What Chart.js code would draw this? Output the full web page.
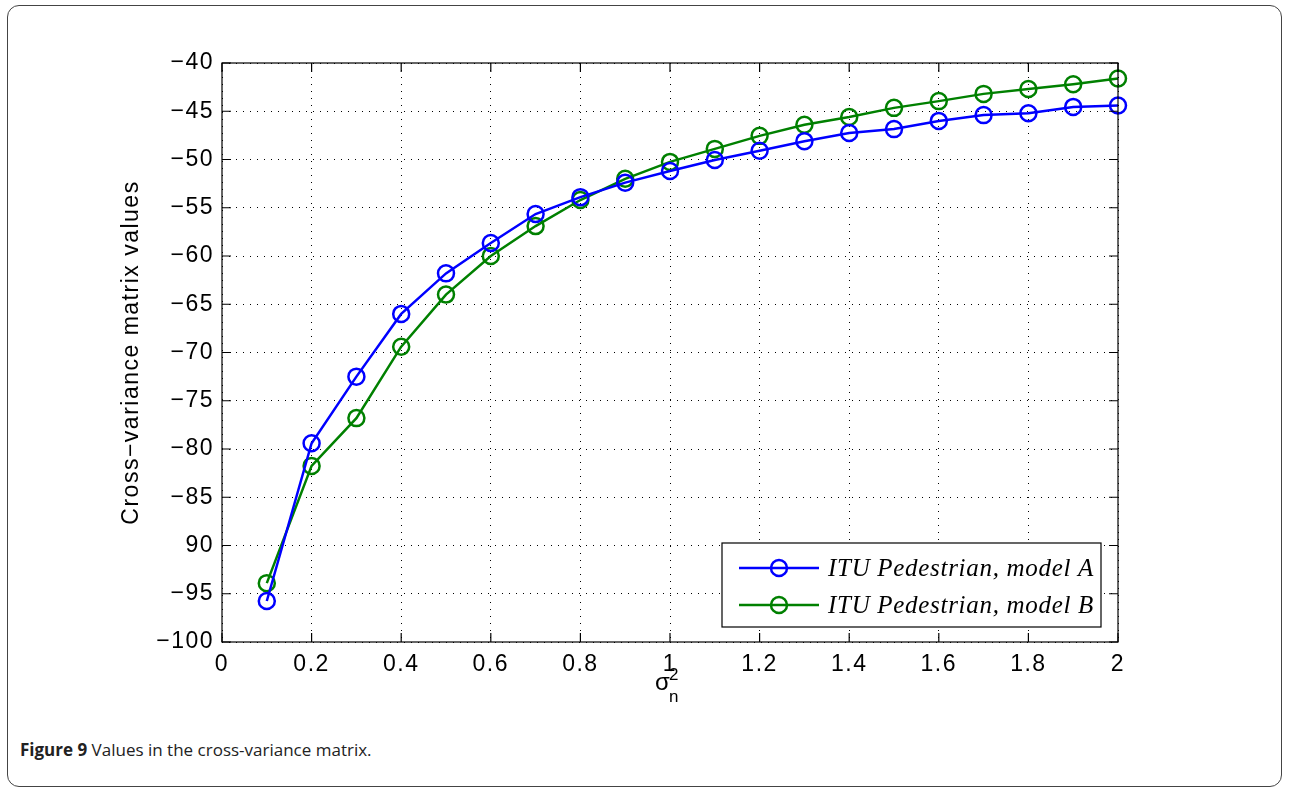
<!DOCTYPE html>
<html>
<head>
<meta charset="utf-8">
<script src="https://cdn.jsdelivr.net/npm/chart.js"></script>
<style>
  body { margin: 0; background: #fff; }
  #frame {
    position: absolute; left: 7px; top: 5px; width: 1275px; height: 782px;
    border: 1.5px solid #444; border-radius: 12px; box-sizing: border-box;
  }
  #wrap { position: absolute; left: 0; top: 0; width: 1291px; height: 720px; }
  #caption {
    position: absolute; left: 20px; top: 738px;
    font-family: "Open Sans", "Noto Sans", sans-serif; font-size: 17px; color: #222;
  }
</style>
</head>
<body>
<div id="frame"></div>
<div id="wrap"><canvas id="myChart"></canvas></div>
<div id="caption"><b>Figure 9</b> Values in the cross-variance matrix.</div>
<script>
// noise variance sigma_n^2
var sigmaValues = [0.1, 0.2, 0.3, 0.4, 0.5, 0.6, 0.7, 0.8, 0.9, 1.0,
                   1.1, 1.2, 1.3, 1.4, 1.5, 1.6, 1.7, 1.8, 1.9, 2.0];
var modelA = [-95.75, -79.4, -72.5, -66.0, -61.8, -58.65, -55.65, -53.9, -52.4, -51.2,
              -50.05, -49.1, -48.1, -47.25, -46.85, -46.0, -45.4, -45.2, -44.55, -44.4];
var modelB = [-93.9, -81.75, -76.8, -69.4, -64.0, -60.0, -56.9, -54.2, -52.0, -50.25,
              -48.9, -47.55, -46.4, -45.6, -44.65, -43.95, -43.2, -42.7, -42.2, -41.6];
var seriesLabels = ["ITU Pedestrian, model A", "ITU Pedestrian, model B"];
var seriesColors = ["#0000ff", "#008000"];
var xTicks = [0, 0.2, 0.4, 0.6, 0.8, 1, 1.2, 1.4, 1.6, 1.8, 2];
var yTicks = [-100, -95, -90, -85, -80, -75, -70, -65, -60, -55, -50, -45, -40];
// the -90 label is printed without its minus sign in the figure
var yTickLabels = ["\u2212100", "\u221295", "90", "\u221285", "\u221280", "\u221275", "\u221270",
                   "\u221265", "\u221260", "\u221255", "\u221250", "\u221245", "\u221240"];

function toPoints(vals) {
  return vals.map(function (v, i) { return { x: sigmaValues[i], y: v }; });
}

var tickFont = { family: "'Liberation Sans', Arial, sans-serif", size: 23 };

var spacing = {
  id: "spacing",
  beforeDraw: function (chart) { chart.ctx.letterSpacing = "1.5px"; }
};

// box, inward ticks, sigma label and legend drawn after the chart
var matlabBits = {
  id: "matlabBits",
  afterDraw: function (chart) {
    var ctx = chart.ctx;
    var a = chart.chartArea;
    var xs = chart.scales.x, ys = chart.scales.y;
    ctx.save();
    ctx.strokeStyle = "#000";
    ctx.lineWidth = 1.2;
    ctx.setLineDash([]);
    ctx.strokeRect(a.left, a.top, a.right - a.left, a.bottom - a.top);
    var len = 9;
    ctx.beginPath();
    xTicks.forEach(function (t) {
      var px = xs.getPixelForValue(t);
      ctx.moveTo(px, a.bottom); ctx.lineTo(px, a.bottom - len);
      ctx.moveTo(px, a.top); ctx.lineTo(px, a.top + len);
    });
    yTicks.forEach(function (t) {
      var py = ys.getPixelForValue(t);
      ctx.moveTo(a.left, py); ctx.lineTo(a.left + len, py);
      ctx.moveTo(a.right, py); ctx.lineTo(a.right - len, py);
    });
    ctx.stroke();

    // x axis title: sigma with sup 2 and sub n
    var cx = (a.left + a.right) / 2;
    ctx.letterSpacing = "0px";
    ctx.fillStyle = "#000";
    ctx.textBaseline = "alphabetic";
    ctx.textAlign = "left";
    ctx.font = "24px 'Liberation Sans', Arial, sans-serif";
    ctx.fillText("\u03c3", cx - 15, 690);
    ctx.font = "17px 'Liberation Sans', Arial, sans-serif";
    ctx.fillText("2", cx - 1, 680);
    ctx.fillText("n", cx - 1, 702);

    // legend
    var lx = 722, ly = 543, lw = 379, lh = 84;
    ctx.fillStyle = "#fff";
    ctx.fillRect(lx, ly, lw, lh);
    ctx.strokeStyle = "#000";
    ctx.lineWidth = 1.2;
    ctx.strokeRect(lx, ly, lw, lh);
    chart.data.datasets.forEach(function (ds, i) {
      var ry = ly + 25 + i * 37;
      ctx.strokeStyle = ds.borderColor;
      ctx.lineWidth = 2.5;
      ctx.beginPath();
      ctx.moveTo(lx + 17, ry); ctx.lineTo(lx + 97, ry);
      ctx.stroke();
      ctx.beginPath();
      ctx.arc(lx + 57, ry, 8, 0, Math.PI * 2);
      ctx.stroke();
      ctx.fillStyle = "#000";
      ctx.letterSpacing = "0.7px";
      ctx.font = "italic 25px 'Liberation Serif', 'Times New Roman', serif";
      ctx.textBaseline = "middle";
      ctx.fillText(ds.label, lx + 106, ry + 1);
    });
    ctx.restore();
  }
};

new Chart("myChart", {
  type: "line",
  data: {
    datasets: [
      {
        label: seriesLabels[0],
        data: toPoints(modelA),
        borderColor: seriesColors[0],
        backgroundColor: "transparent",
        borderWidth: 2.5,
        pointRadius: 8,
        pointBorderWidth: 2.5,
        pointBackgroundColor: "transparent",
        pointBorderColor: seriesColors[0],
        tension: 0
      },
      {
        label: seriesLabels[1],
        data: toPoints(modelB),
        borderColor: seriesColors[1],
        backgroundColor: "transparent",
        borderWidth: 2.5,
        pointRadius: 8,
        pointBorderWidth: 2.5,
        pointBackgroundColor: "transparent",
        pointBorderColor: seriesColors[1],
        tension: 0
      }
    ]
  },
  options: {
    responsive: true,
    maintainAspectRatio: false,
    animation: false,
    events: [],
    clip: false,
    layout: { padding: { left: 118, top: 63, right: 173, bottom: 0 } },
    plugins: {
      legend: { display: false },
      tooltip: { enabled: false }
    },
    scales: {
      x: {
        type: "linear",
        min: 0, max: 2,
        afterBuildTicks: function (scale) {
          scale.ticks = xTicks.map(function (v) { return { value: v }; });
        },
        afterFit: function (scale) { scale.height = 78; },
        ticks: {
          color: "#000", font: tickFont, padding: 9, maxRotation: 0,
          autoSkip: false,
          callback: function (v) { return String(Math.round(v * 10) / 10); }
        },
        grid: { color: "#000", lineWidth: 1, drawTicks: false },
        border: { display: false, dash: [1, 6] }
      },
      y: {
        min: -100, max: -40,
        afterBuildTicks: function (scale) {
          scale.ticks = yTicks.map(function (v) { return { value: v }; });
        },
        afterFit: function (scale) { scale.width = 104; },
        ticks: {
          color: "#000", font: tickFont, padding: 8,
          callback: function (v) { return yTickLabels[yTicks.indexOf(v)]; }
        },
        title: {
          display: true, text: "Cross\u2212variance matrix values", color: "#000",
          font: { family: "'Liberation Sans', Arial, sans-serif", size: 23 },
          padding: 0
        },
        grid: { color: "#000", lineWidth: 1, drawTicks: false },
        border: { display: false, dash: [1, 6] }
      }
    }
  },
  plugins: [spacing, matlabBits]
});
</script>
</body>
</html>
